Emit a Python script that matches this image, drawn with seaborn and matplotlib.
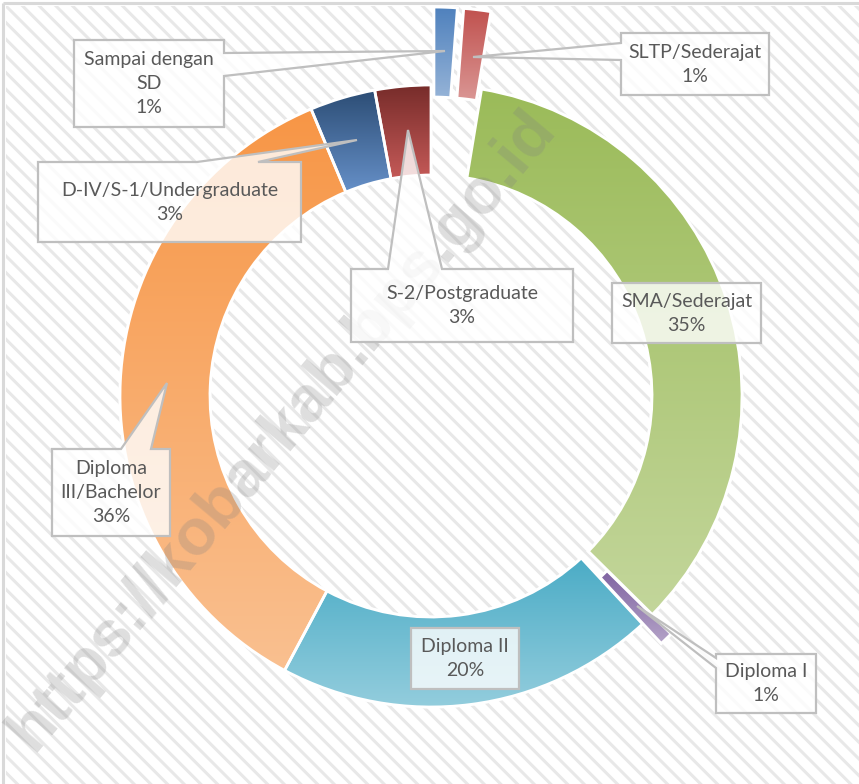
import numpy as np
import matplotlib
matplotlib.use("Agg")
import matplotlib.pyplot as plt
import seaborn as sns
from matplotlib.patches import Rectangle, Polygon, Wedge
from matplotlib.colors import to_rgb

# ---------------- data ----------------
categories = ["Sampai dengan\nSD", "SLTP/Sederajat", "SMA/Sederajat", "Diploma I",
              "Diploma II", "Diploma\nIII/Bachelor", "D-IV/S-1/Undergraduate",
              "S-2/Postgraduate"]
shares = [1.2, 1.4, 34.8, 0.7, 19.7, 35.9, 3.4, 2.9]
top_colors = ["#4F81BD", "#C0504D", "#9BBB59", "#8064A2",
              "#4BACC6", "#F79646", "#2C4D75", "#772C2A"]
bottom_colors = ["#95B3D7", "#DA9694", "#C3D69B", "#B3A2C7",
                 "#93CDDD", "#FAC090", "#6690C8", "#C55A58"]

# ---------------- style ----------------
sns.set_theme(style="white")
plt.rcParams["font.family"] = ["Lato", "DejaVu Sans"]
plt.rcParams["hatch.linewidth"] = 2.2

W, H = 859, 784
fig = plt.figure(figsize=(W / 100, H / 100), dpi=100)
ax = fig.add_axes([0, 0, 1, 1])


def Y(y):
    return H - y


# background: hatched chart area with a light frame
ax.add_patch(Rectangle((6, 0), W, H - 6, facecolor="white", edgecolor="#E8E8E8",
                       hatch="\\\\", lw=0, zorder=0))
ax.plot([3, 3], [0, H - 3], color="#D9D9D9", lw=2.2, zorder=0.5, solid_capstyle="butt")
ax.plot([3, W], [H - 3, H - 3], color="#D9D9D9", lw=2.2, zorder=0.5, solid_capstyle="butt")

# ---------------- donut ----------------
cx, cy, R = 431, Y(396), 311
explode = [78, 78, 0, 27, 0, 0, 0, 0]
wedges, _ = ax.pie(shares, explode=explode, center=(cx, cy), radius=R,
                   startangle=90, counterclock=False, colors=top_colors,
                   wedgeprops=dict(width=90, edgecolor="white", linewidth=2))

grad = np.linspace(0, 1, 256)[:, None]
for w, ct, cb in zip(wedges, top_colors, bottom_colors):
    w.set_zorder(1)
    ext = w.get_path().transformed(w.get_patch_transform()).get_extents()
    t = np.array(to_rgb(ct))
    b = np.array(to_rgb(cb))
    arr = ((1 - grad)[..., None] * t + grad[..., None] * b)
    im = ax.imshow(arr, extent=(ext.x0, ext.x1, ext.y0, ext.y1), origin="upper",
                   aspect="auto", interpolation="bilinear", zorder=2)
    im.set_clip_path(w)
    ax.add_patch(Wedge(w.center, w.r, w.theta1, w.theta2, width=w.width,
                       facecolor="none", edgecolor="white", lw=2, zorder=3))

# watermark
ax.text(282, Y(430), "https://kobarkab.bps.go.id", rotation=50, ha="center",
        va="center", rotation_mode="anchor", fontsize=47, fontweight="bold",
        color="#808080", alpha=0.26, family="Liberation Sans", zorder=4)

# ---------------- callout labels ----------------
# box (x0, y0, x1, y1) in image pixels, tail (side, base1, base2, apex)
boxes = [
    ((74, 40, 224, 127), ("right", 53, 76, (445, 51))),
    ((621, 33, 769, 95), ("left", 43, 60, (473, 57))),
    ((612, 283, 761, 343), None),
    ((716, 654, 816, 713), ("left", 658, 668, (637, 606))),
    ((411, 628, 519, 689), None),
    ((52, 449, 170, 536), ("top", 121, 151, (167, 383))),
    ((38, 162, 301, 242), ("top", 197, 258, (357, 140))),
    ((351, 269, 573, 342), ("top", 388, 442, (408, 130))),
]


def callout_vertices(box, tail):
    x0, y0, x1, y1 = box
    if tail is None:
        pts = [(x0, y0), (x1, y0), (x1, y1), (x0, y1)]
    else:
        side, b1, b2, apex = tail
        if side == "top":
            pts = [(x0, y0), (b1, y0), apex, (b2, y0), (x1, y0), (x1, y1), (x0, y1)]
        elif side == "right":
            pts = [(x0, y0), (x1, y0), (x1, b1), apex, (x1, b2), (x1, y1), (x0, y1)]
        else:  # left
            pts = [(x0, y0), (x1, y0), (x1, y1), (x0, y1), (x0, b2), apex, (x0, b1)]
    return [(px, Y(py)) for px, py in pts]


for name, val, (box, tail) in zip(categories, shares, boxes):
    poly = Polygon(callout_vertices(box, tail), closed=True, facecolor=(1, 1, 1, 0.8),
                   edgecolor="#BFBFBF", lw=1.6, joinstyle="miter", zorder=5)
    ax.add_patch(poly)
    x0, y0, x1, y1 = box
    ax.text((x0 + x1) / 2, Y((y0 + y1) / 2), f"{name}\n{round(val)}%", ha="center",
            va="center", multialignment="center", fontsize=14, color="#595959",
            linespacing=1.5, zorder=6)

ax.set_xlim(0, W)
ax.set_ylim(0, H)
ax.set_aspect("auto")
ax.axis("off")
fig.savefig("out.png", dpi=100)
